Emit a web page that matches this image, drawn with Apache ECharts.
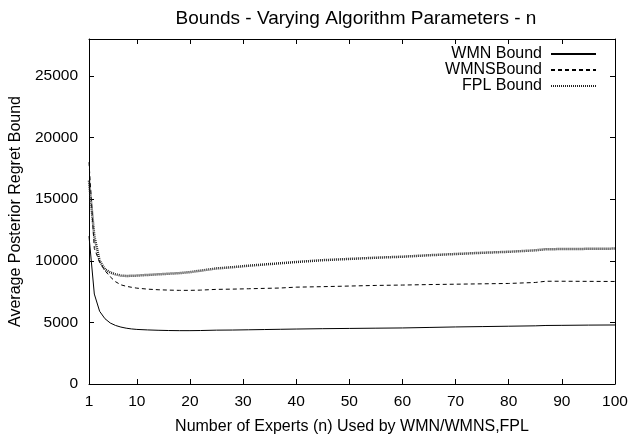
<!DOCTYPE html>
<html>
<head>
<meta charset="utf-8">
<script src="https://cdn.jsdelivr.net/npm/echarts@6/dist/echarts.min.js"></script>
<style>
html, body { margin: 0; padding: 0; background: #fff; }
#main { width: 639px; height: 440px; }
</style>
</head>
<body>
<div id="main"></div>
<script>
// number of experts n (sampled where the curves were read)
var nValues = [1, 2, 3, 4, 5, 6, 7, 8, 9, 10, 12, 14, 16, 18, 20, 22, 25, 28, 31, 34, 37, 40, 45, 50, 55, 60, 65, 70, 75, 80, 85, 87, 90, 95, 100];
var wmnBound = [12000, 7300, 5900, 5300, 4950, 4750, 4620, 4530, 4470, 4430, 4390, 4360, 4340, 4330, 4330, 4340, 4370, 4380, 4400, 4420, 4440, 4460, 4490, 4510, 4530, 4550, 4590, 4630, 4660, 4690, 4720, 4750, 4760, 4780, 4790];
var wmnsBound = [18000, 11000, 9900, 9200, 8700, 8300, 8050, 7930, 7850, 7780, 7700, 7650, 7620, 7600, 7600, 7620, 7680, 7700, 7730, 7760, 7790, 7860, 7900, 7950, 8000, 8030, 8070, 8100, 8130, 8160, 8240, 8340, 8340, 8330, 8320];
var fplBound = [16500, 12000, 10000, 9300, 9050, 8900, 8800, 8770, 8780, 8800, 8850, 8900, 8950, 9000, 9080, 9200, 9380, 9480, 9600, 9700, 9800, 9900, 10050, 10150, 10250, 10330, 10450, 10550, 10650, 10730, 10850, 10940, 10950, 10970, 10990];
var xTicks = [1, 10, 20, 30, 40, 50, 60, 70, 80, 90, 100];
var yTicks = [0, 5000, 10000, 15000, 20000, 25000];

function pairs(ys) {
    return nValues.map(function (n, i) { return [n, ys[i]]; });
}

var chartDom = document.getElementById('main');
var myChart = echarts.init(chartDom);
var font = 'Liberation Sans, Arial, sans-serif';

var option = {
    animation: false,
    backgroundColor: '#fff',
    textStyle: { fontFamily: font, color: '#000' },
    title: {
        text: 'Bounds - Varying Algorithm Parameters - n',
        left: 351, top: 4, textAlign: 'center',
        textStyle: { fontFamily: font, fontSize: 19, fontWeight: 'normal', color: '#000' }
    },
    legend: {
        orient: 'vertical',
        right: 37, top: 41,
        align: 'right',
        itemWidth: 45, itemHeight: 8, itemGap: 0,
        itemStyle: { opacity: 0 },
        textStyle: { fontFamily: font, fontSize: 16, lineHeight: 15, color: '#000', padding: [0, 4, 0, 0] },
        data: ['WMN Bound', 'WMNSBound', 'FPL Bound']
    },
    grid: { left: 88, right: 24, top: 39, bottom: 49 },
    xAxis: [{
        type: 'value', min: 1, max: 100,
        name: 'Number of Experts (n) Used by WMN/WMNS,FPL',
        nameLocation: 'middle', nameGap: 35,
        nameTextStyle: { fontFamily: font, fontSize: 16, color: '#000' },
        axisLine: { lineStyle: { color: '#000' } },
        axisTick: { inside: true, length: 5, customValues: xTicks, lineStyle: { color: '#000' } },
        axisLabel: { customValues: xTicks, fontSize: 15.5, color: '#000', margin: 10 },
        splitLine: { show: false }
    }, {
        type: 'value', min: 1, max: 100, position: 'top',
        axisLine: { show: true, onZero: false, lineStyle: { color: '#000' } },
        axisTick: { inside: true, length: 5, customValues: xTicks, lineStyle: { color: '#000' } },
        axisLabel: { show: false },
        splitLine: { show: false }
    }],
    yAxis: [{
        type: 'value', min: 0, max: 28000,
        name: 'Average Posterior Regret Bound',
        nameLocation: 'middle', nameGap: 59,
        nameTextStyle: { fontFamily: font, fontSize: 16, color: '#000' },
        axisLine: { show: true, lineStyle: { color: '#000' } },
        axisTick: { show: true, inside: true, length: 5, customValues: yTicks, lineStyle: { color: '#000' } },
        axisLabel: { customValues: yTicks, fontSize: 15.5, color: '#000', margin: 11, formatter: function (v) { return String(v); } },
        splitLine: { show: false }
    }, {
        type: 'value', min: 0, max: 28000, position: 'right',
        axisLine: { show: true, onZero: false, lineStyle: { color: '#000' } },
        axisTick: { show: true, inside: true, length: 5, customValues: yTicks, lineStyle: { color: '#000' } },
        axisLabel: { show: false },
        splitLine: { show: false }
    }],
    series: [{
        name: 'WMN Bound', type: 'line', symbol: 'none',
        lineStyle: { color: '#000', width: 1 },
        itemStyle: { color: '#000' },
        data: pairs(wmnBound)
    }, {
        name: 'WMNSBound', type: 'line', symbol: 'none',
        lineStyle: { color: '#000', width: 1, type: [4, 3] },
        itemStyle: { color: '#000' },
        data: pairs(wmnsBound)
    }, {
        name: 'FPL Bound', type: 'line', symbol: 'none',
        lineStyle: { color: '#222', width: 2.5, type: [1, 1] },
        itemStyle: { color: '#222' },
        data: pairs(fplBound)
    }]
};

option && myChart.setOption(option);
</script>
</body>
</html>
